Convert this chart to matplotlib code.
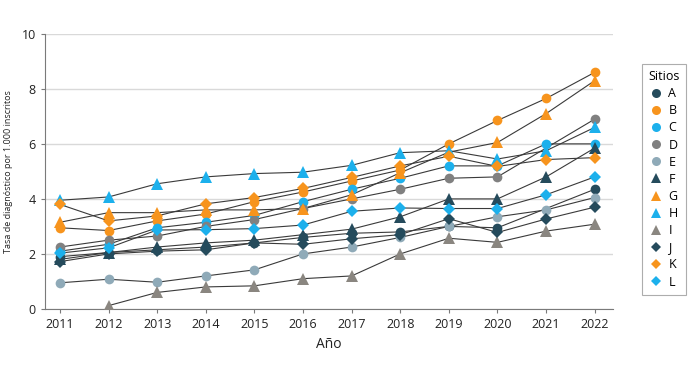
import numpy as np
import matplotlib
matplotlib.use("Agg")
import matplotlib.pyplot as plt
from matplotlib.lines import Line2D

plt.rcParams['font.family'] = ['Open Sans', 'DejaVu Sans']

years = list(range(2011, 2023))
nan = np.nan
sites = ["A", "B", "C", "D", "E", "F", "G", "H", "I", "J", "K", "L"]
A = [1.90, 2.05, 2.15, 2.25, 2.40, 2.60, 2.75, 2.80, 3.00, 2.95, nan, 4.35]
B = [2.95, 2.85, 3.20, 3.45, 3.90, 4.25, 4.65, 5.05, 6.00, 6.85, 7.65, 8.60]
C = [2.10, 2.35, 2.95, 3.15, 3.40, 3.90, 4.35, 4.75, 5.20, 5.20, 6.00, 6.00]
D = [2.25, 2.50, 2.65, 3.00, 3.25, 3.65, 4.00, 4.35, 4.75, 4.80, nan, 6.90]
E = [0.95, 1.08, 0.97, 1.20, 1.42, 2.00, 2.25, 2.60, 3.00, 3.35, 3.60, 4.05]
F = [1.80, 2.05, 2.25, 2.40, 2.50, 2.70, 2.90, 3.35, 4.00, 4.00, 4.80, 5.85]
G = [3.15, 3.50, 3.50, 3.60, 3.60, 3.65, 4.15, 4.95, 5.70, 6.05, 7.10, 8.30]
H = [3.95, 4.07, 4.55, 4.80, 4.92, 4.97, 5.22, 5.68, 5.75, 5.45, 5.75, 6.60]
I = [nan, 0.12, 0.60, 0.80, 0.84, 1.10, 1.20, 2.00, 2.57, 2.42, 2.83, 3.08]
J = [1.72, 2.00, 2.10, 2.15, 2.40, 2.35, 2.55, 2.70, 3.28, 2.78, 3.27, 3.70]
K = [3.80, 3.20, 3.38, 3.82, 4.05, 4.38, 4.78, 5.20, 5.55, 5.18, 5.43, 5.50]
L = [2.03, 2.22, 2.87, 2.88, 2.92, 3.05, 3.55, 3.67, 3.65, 3.65, 4.15, 4.80]
series = [A, B, C, D, E, F, G, H, I, J, K, L]

dark = "#254b5c"
orange = "#f7941d"
blue = "#1cb0ec"
gray = "#808080"
grayblue = "#8faab8"
graybrown = "#8a8680"
colors = [dark, orange, blue, gray, grayblue, dark, orange, blue, graybrown, dark, orange, blue]
markers = ["o"] * 5 + ["^"] * 4 + ["D"] * 3
msizes = {"o": 7, "^": 8, "D": 6}

fig = plt.figure(figsize=(6.9, 3.8), dpi=100)
ax = fig.add_axes([0.065, 0.187, 0.823, 0.724])

for name, vals, c, m in zip(sites, series, colors, markers):
    x = np.array(years, dtype=float)
    y = np.array(vals, dtype=float)
    ok = ~np.isnan(y)
    ax.plot(x[ok], y[ok], color="#3a3a3a", lw=0.8, zorder=2)
    ax.plot(x[ok], y[ok], linestyle="none", marker=m, ms=msizes[m],
            color=c, markeredgewidth=0, zorder=3)

ax.set_xlim(2010.69, 2022.37)
ax.set_ylim(0, 10)
ax.set_yticks(range(0, 11, 2))
ax.set_xticks(years)
ax.grid(axis="y", color="#d9d9d9", lw=1)
ax.set_axisbelow(True)
for s in ["top", "right"]:
    ax.spines[s].set_visible(False)
for s in ["left", "bottom"]:
    ax.spines[s].set_color("#7a7a7a")
ax.tick_params(axis="both", colors="#7a7a7a", labelcolor="#222222", labelsize=9, length=3)
ax.set_xlabel("Año", fontsize=10, color="#222222", labelpad=4)
ax.set_ylabel("Tasa de diagnóstico por 1.000 inscritos", fontsize=6.5, color="#222222", labelpad=6)

handles = [Line2D([0], [0], linestyle="none", marker=m, ms=msizes[m] - 0.5, color=c, markeredgewidth=0)
           for c, m in zip(colors, markers)]
leg = fig.legend(handles, sites, title="Sitios", loc="upper left",
                 bbox_to_anchor=(0.930, 0.832), borderaxespad=0, frameon=True, fancybox=False,
                 edgecolor="#999999", fontsize=9, title_fontsize=9,
                 handletextpad=0.5, labelspacing=0.33, borderpad=0.5, handlelength=1.0)
leg.get_frame().set_linewidth(0.8)

fig.savefig("out.png", dpi=100)
